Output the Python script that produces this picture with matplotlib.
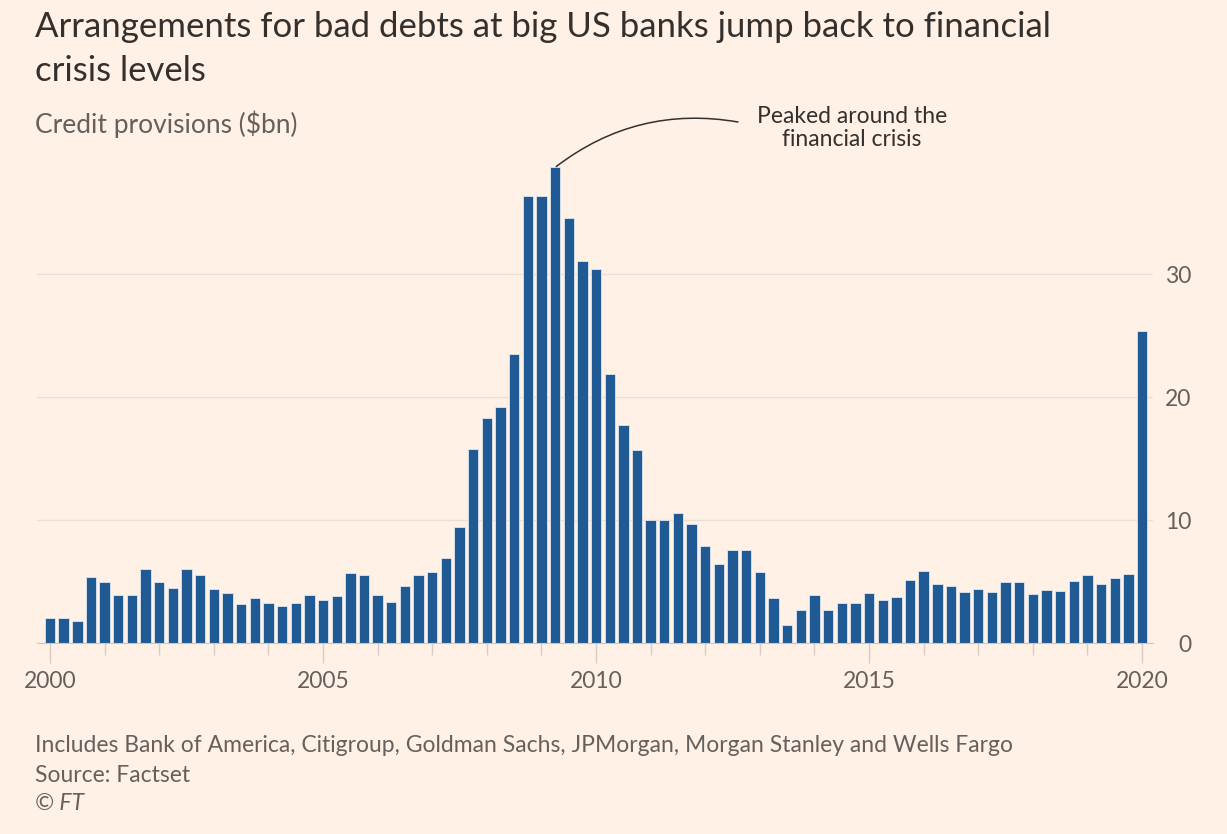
import matplotlib
matplotlib.use('Agg')
import matplotlib.pyplot as plt
from matplotlib.ticker import FixedLocator, NullFormatter

# Quarterly credit provisions ($bn), 2000 Q1 .. 2020 Q1
years = list(range(2000, 2021))
label_years = [2000, 2005, 2010, 2015, 2020]
provisions = [
    2.0, 2.0, 1.8, 5.4, 5.0, 3.9, 3.9, 6.0, 5.0, 4.5,
    6.0, 5.5, 4.4, 4.1, 3.2, 3.7, 3.25, 3.0, 3.25, 3.9,
    3.5, 3.8, 5.7, 5.5, 3.9, 3.3, 4.6, 5.5, 5.8, 6.9,
    9.45, 15.8, 18.3, 19.2, 23.5, 36.4, 36.4, 38.7, 34.6, 31.1,
    30.4, 21.9, 17.7, 15.7, 10.0, 10.0, 10.6, 9.7, 7.9, 6.4,
    7.6, 7.55, 5.8, 3.65, 1.5, 2.65, 3.9, 2.7, 3.25, 3.25,
    4.1, 3.5, 3.75, 5.1, 5.9, 4.8, 4.6, 4.15, 4.4, 4.15,
    5.0, 5.0, 4.0, 4.3, 4.2, 5.05, 5.55, 4.8, 5.3, 5.6,
    25.4,
]
yticks = [0, 10, 20, 30]

BG = '#fff1e6'
BAR = '#1f5a94'
GREY = '#66605c'
DARK = '#33302e'

plt.rcParams['font.family'] = ['Lato', 'DejaVu Sans']

fig = plt.figure(figsize=(12.27, 8.34), dpi=100, facecolor=BG)
ax = fig.add_axes([0.0302, 0.229, 0.9095, 0.5791], facecolor=BG)

# x position of each quarter in years
xs = [2000 + i / 4 for i in range(len(provisions))]
ax.bar(xs, provisions, width=0.19, color=BAR, edgecolor='#dfe6ee', linewidth=0.6, zorder=3)

ax.set_xlim(2000 - 0.95 / 4, 2000 + 80.8 / 4)
ax.set_ylim(0, 39.3)

# y axis on the right, labels right-aligned
ax.yaxis.tick_right()
ax.set_yticks(yticks)
ax.set_yticklabels([str(v) for v in yticks], fontsize=16.5, color=GREY, ha='right')
ax.tick_params(axis='y', length=0, pad=27.5)
ax.grid(axis='y', color='#eadfd5', linewidth=1, zorder=0)

ax.xaxis.set_major_locator(FixedLocator(label_years))
ax.xaxis.set_minor_locator(FixedLocator([y for y in years if y not in label_years]))
ax.xaxis.set_minor_formatter(NullFormatter())
ax.set_xticklabels([str(y) for y in label_years], fontsize=16.5, color=GREY)
ax.tick_params(axis='x', which='major', length=14.4, width=1, color='#d6ccc4', pad=6)
ax.tick_params(axis='x', which='minor', length=8.6, width=1, color='#d6ccc4')

for side in ['top', 'right', 'left']:
    ax.spines[side].set_visible(False)
ax.spines['bottom'].set_color('#cfc6be')
ax.spines['bottom'].set_zorder(4)

# annotation for the peak
peak_i = provisions.index(max(provisions))
ax.annotate('', xy=(xs[peak_i], provisions[peak_i]), xycoords='data',
            xytext=(738 / 1227, 1 - 122 / 834), textcoords='figure fraction',
            annotation_clip=False,
            arrowprops=dict(arrowstyle='-', color=DARK, linewidth=1.1,
                            connectionstyle='arc3,rad=0.22',
                            shrinkA=0, shrinkB=1))
fig.text(852 / 1227, 1 - 128 / 834, 'Peaked around the\nfinancial crisis',
         ha='center', va='center', fontsize=16.5, color=DARK, linespacing=1.15)

fig.text(35 / 1227, 1 - 11 / 834,
         'Arrangements for bad debts at big US banks jump back to financial\ncrisis levels',
         ha='left', va='top', fontsize=25, color=DARK, linespacing=1.45)
fig.text(35 / 1227, 1 - 124 / 834, 'Credit provisions ($bn)',
         ha='left', va='center', fontsize=19, color=GREY)

fig.text(35 / 1227, 1 - 746 / 834,
         'Includes Bank of America, Citigroup, Goldman Sachs, JPMorgan, Morgan Stanley and Wells Fargo',
         ha='left', va='center', fontsize=16.5, color=GREY)
fig.text(35 / 1227, 1 - 775 / 834, 'Source: Factset',
         ha='left', va='center', fontsize=16.5, color=GREY)
fig.text(35 / 1227, 1 - 804 / 834, '\u00a9 FT',
         ha='left', va='center', fontsize=16.5, color=GREY, style='italic')

fig.savefig('out.png', dpi=100, facecolor=BG)
